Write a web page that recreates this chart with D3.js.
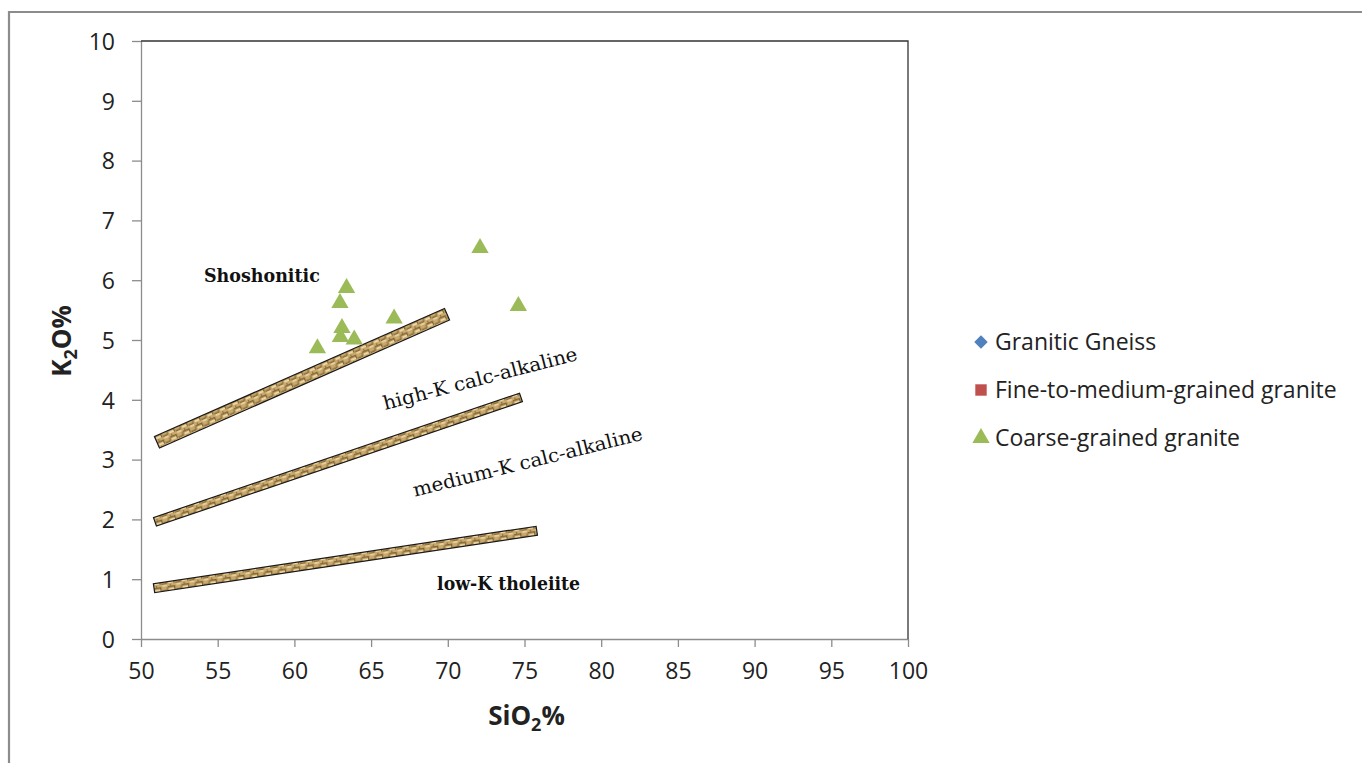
<!DOCTYPE html>
<html>
<head>
<meta charset="utf-8">
<script src="https://cdn.jsdelivr.net/npm/d3@7"></script>
<style>
  html, body { margin: 0; padding: 0; background: #fff; }
  svg { display: block; }
</style>
</head>
<body>
<svg id="chart" width="1362" height="763"></svg>
<script>
// ---------------- data ----------------
const xTicks = [50, 55, 60, 65, 70, 75, 80, 85, 90, 95, 100];
const yTicks = [0, 1, 2, 3, 4, 5, 6, 7, 8, 9, 10];

const seriesNames = ["Granitic Gneiss", "Fine-to-medium-grained granite", "Coarse-grained granite"];
const seriesColors = ["#4f81bd", "#c0504d", "#9bbb59"];

const gneissSiO2 = [];
const gneissK2O = [];
const fineSiO2 = [];
const fineK2O = [];
const coarseSiO2 = [61.5, 62.97, 63.4, 63.1, 63.0, 63.9, 66.5, 72.1, 74.6];
const coarseK2O  = [4.86, 5.62, 5.87, 5.2, 5.05, 5.01, 5.36, 6.54, 5.57];

// boundary bands (start and end points, in data units)
const bandX1 = [51.04, 50.91, 50.85];
const bandY1 = [3.29, 1.96, 0.85];
const bandX2 = [69.95, 74.77, 75.8];
const bandY2 = [5.43, 4.04, 1.81];

// field labels
const fieldLabels = ["Shoshonitic", "high-K calc-alkaline", "medium-K calc-alkaline", "low-K tholeiite"];
const fieldX = [54.1, 65.9, 67.85, 69.3];
const fieldY = [5.97, 3.83, 2.38, 0.82];

// ---------------- layout ----------------
const svg = d3.select("#chart");
const pLeft = 141, pRight = 908, pTop = 41, pBottom = 639;
const x = d3.scaleLinear().domain([50, 100]).range([pLeft, pRight]);
const y = d3.scaleLinear().domain([0, 10]).range([pBottom, pTop]);

const tickFont = "'Open Sans', 'Noto Sans', sans-serif";
const serifFont = "'DejaVu Serif', 'Liberation Serif', serif";

// outer chart frame (left + top visible)
svg.append("path")
  .attr("d", "M9,763 L9,12 L1362,12")
  .attr("fill", "none").attr("stroke", "#8c8c8c").attr("stroke-width", 2.2);

// texture pattern for bands
const defs = svg.append("defs");
const pat = defs.append("pattern")
  .attr("id", "wood").attr("patternUnits", "userSpaceOnUse")
  .attr("width", 14).attr("height", 7);
pat.append("rect").attr("width", 14).attr("height", 7).attr("fill", "#c9a96c");
pat.append("rect").attr("x", 0).attr("y", 0).attr("width", 6).attr("height", 1.5).attr("fill", "#6f5328").attr("opacity", 0.75);
pat.append("rect").attr("x", 8).attr("y", 3.5).attr("width", 5).attr("height", 1.5).attr("fill", "#6f5328").attr("opacity", 0.7);
pat.append("rect").attr("x", 6).attr("y", 0).attr("width", 1.3).attr("height", 4.5).attr("fill", "#5e4520").attr("opacity", 0.7);
pat.append("rect").attr("x", 1).attr("y", 2.3).attr("width", 5).attr("height", 1.8).attr("fill", "#f0dfae").attr("opacity", 0.95);
pat.append("rect").attr("x", 8.5).attr("y", 5.3).attr("width", 4.5).attr("height", 1.4).attr("fill", "#f3e5ba").attr("opacity", 0.9);
pat.append("rect").attr("x", 12.6).attr("y", 0.8).attr("width", 1.1).attr("height", 3.5).attr("fill", "#5e4520").attr("opacity", 0.6);
pat.append("rect").attr("x", 2).attr("y", 5).attr("width", 1.2).attr("height", 2).attr("fill", "#5e4520").attr("opacity", 0.55);

// axes
const gx = svg.append("g").attr("transform", `translate(0,${pBottom})`)
  .call(d3.axisBottom(x).tickValues(xTicks).tickSize(8).tickPadding(8).tickSizeOuter(0));
const gy = svg.append("g").attr("transform", `translate(${pLeft},0)`)
  .call(d3.axisLeft(y).tickValues(yTicks).tickSize(9).tickPadding(17).tickSizeOuter(0));
[gx, gy].forEach(g => {
  g.select(".domain").attr("stroke", "#8c8c8c").attr("stroke-width", 1.3);
  g.selectAll(".tick line").attr("stroke", "#8c8c8c").attr("stroke-width", 1.3);
  g.selectAll(".tick text").attr("fill", "#222").style("font-family", tickFont).style("font-size", "23px");
});
gx.selectAll(".tick text").attr("dy", "1.05em");
gy.selectAll(".tick text").attr("dy", "0.36em");

// plot area top and right border
svg.append("path")
  .attr("d", `M${pLeft},${pTop} L${pRight},${pTop} L${pRight},${pBottom}`)
  .attr("fill", "none").attr("stroke", "#333").attr("stroke-width", 1.3);

// bands
const bandWidths = [12.5, 9, 9];
bandX1.forEach((_, i) => {
  const x1 = x(bandX1[i]), y1 = y(bandY1[i]), x2 = x(bandX2[i]), y2 = y(bandY2[i]);
  const len = Math.hypot(x2 - x1, y2 - y1);
  const ang = Math.atan2(y2 - y1, x2 - x1) * 180 / Math.PI;
  const w = bandWidths[i];
  svg.append("rect")
    .attr("x", 0).attr("y", -w / 2).attr("width", len).attr("height", w)
    .attr("transform", `translate(${x1},${y1}) rotate(${ang})`)
    .attr("fill", "url(#wood)")
    .attr("stroke", "#1a1a1a").attr("stroke-width", 1.2);
});

// field labels
const labelSize = [18, 19, 19, 18];
const labelWeight = ["bold", "normal", "normal", "bold"];
const labelRot = [0, -14.5, -14, 0];
const labelLen = [116, 200, 236, 143];
fieldLabels.forEach((t, i) => {
  svg.append("text")
    .attr("transform", `translate(${x(fieldX[i])},${y(fieldY[i])}) rotate(${labelRot[i]})`)
    .attr("textLength", labelLen[i]).attr("lengthAdjust", "spacingAndGlyphs")
    .style("font-family", serifFont).style("font-size", labelSize[i] + "px")
    .style("font-weight", labelWeight[i]).attr("fill", "#111")
    .text(t);
});

// points
const tri = d3.symbol().type(d3.symbolTriangle).size(130);
const diamond = d3.symbol().type(d3.symbolDiamond2).size(115);
const square = d3.symbol().type(d3.symbolSquare).size(130);
svg.append("g").selectAll("path").data(d3.zip(gneissSiO2, gneissK2O)).join("path")
  .attr("d", diamond).attr("transform", d => `translate(${x(d[0])},${y(d[1])})`).attr("fill", seriesColors[0]);
svg.append("g").selectAll("path").data(d3.zip(fineSiO2, fineK2O)).join("path")
  .attr("d", square).attr("transform", d => `translate(${x(d[0])},${y(d[1])})`).attr("fill", seriesColors[1]);
svg.append("g").selectAll("path").data(d3.zip(coarseSiO2, coarseK2O)).join("path")
  .attr("d", tri).attr("transform", d => `translate(${x(d[0])},${y(d[1])})`).attr("fill", seriesColors[2]);

// axis titles
const xt = svg.append("text").attr("x", (pLeft + pRight) / 2 + 2).attr("y", 725)
  .attr("text-anchor", "middle").style("font-family", tickFont)
  .style("font-size", "26px").style("font-weight", "bold").attr("fill", "#222");
xt.append("tspan").text("SiO");
xt.append("tspan").text("2").attr("dy", 6).style("font-size", "18px");
xt.append("tspan").text("%").attr("dy", -6);

const yt = svg.append("text").attr("transform", `translate(71,341) rotate(-90)`)
  .attr("text-anchor", "middle").style("font-family", tickFont)
  .style("font-size", "26px").style("font-weight", "bold").attr("fill", "#222");
yt.append("tspan").text("K");
yt.append("tspan").text("2").attr("dy", 6).style("font-size", "18px");
yt.append("tspan").text("O%").attr("dy", -6);

// legend
const legendSyms = [diamond, square, tri];
const legend = svg.append("g").attr("transform", "translate(981,342)");
seriesNames.forEach((n, i) => {
  const g = legend.append("g").attr("transform", `translate(0,${i * 48})`);
  g.append("path").attr("d", legendSyms[i]).attr("fill", seriesColors[i]);
  g.append("text").attr("x", 14).attr("dy", "0.35em")
    .style("font-family", tickFont).style("font-size", "23px").attr("fill", "#222")
    .text(n);
});
</script>
</body>
</html>
